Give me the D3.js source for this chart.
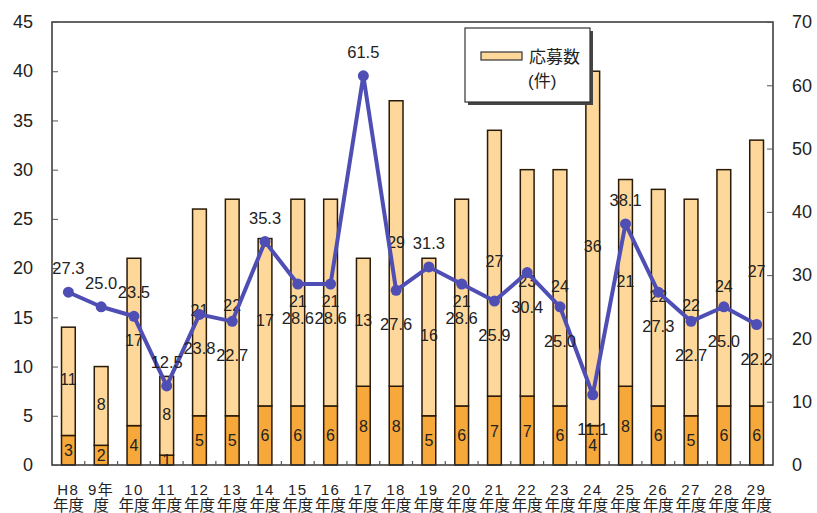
<!DOCTYPE html>
<html>
<head>
<meta charset="utf-8">
<script src="https://cdn.jsdelivr.net/npm/d3@7"></script>
<style>
  html, body { margin: 0; padding: 0; background: #fff; }
  svg { display: block; }
  text { font-family: "Liberation Sans", Arial, "Noto Sans CJK JP", sans-serif; fill: #222; }
</style>
</head>
<body>
<svg id="chart" width="817" height="513"></svg>
<script>
// Fiscal years (two-line labels)
const yearsTop    = ["H8", "9年", "10", "11", "12", "13", "14", "15", "16", "17", "18", "19", "20", "21", "22", "23", "24", "25", "26", "27", "28", "29"];
const yearsBottom = ["年度", "度", "年度", "年度", "年度", "年度", "年度", "年度", "年度", "年度", "年度", "年度", "年度", "年度", "年度", "年度", "年度", "年度", "年度", "年度", "年度", "年度"];

// Lower segment (count) and upper segment (応募数, applications)
const lowerCounts  = [3, 2, 4, 1, 5, 5, 6, 6, 6, 8, 8, 5, 6, 7, 7, 6, 4, 8, 6, 5, 6, 6];
const applications = [11, 8, 17, 8, 21, 22, 17, 21, 21, 13, 29, 16, 21, 27, 23, 24, 36, 21, 22, 22, 24, 27];

// Ratio line (%), right axis
const ratios = [27.3, 25.0, 23.5, 12.5, 23.8, 22.7, 35.3, 28.6, 28.6, 61.5, 27.6, 31.3, 28.6, 25.9, 30.4, 25.0, 11.1, 38.1, 27.3, 22.7, 25.0, 22.2];
const ratioLabelSide = ["a", "a", "a", "a", "b", "b", "a", "b", "b", "a", "b", "a", "b", "b", "b", "b", "b", "a", "b", "b", "b", "b"];

const leftTicks  = [0, 5, 10, 15, 20, 25, 30, 35, 40, 45];
const rightTicks = [0, 10, 20, 30, 40, 50, 60, 70];

const legendLines = ["応募数", "(件)"];

const svg = d3.select("#chart");
const plot = { left: 52, right: 773, top: 22, bottom: 465 };

const x = d3.scaleBand().domain(d3.range(yearsTop.length)).range([plot.left, plot.right]).padding(0);
const yL = d3.scaleLinear().domain([0, 45]).range([plot.bottom, plot.top]);
const yR = d3.scaleLinear().domain([0, 70]).range([plot.bottom, plot.top]);
const barW = x.bandwidth() * 0.42;
const cx = i => x(i) + x.bandwidth() / 2;

const colLight = "#fdd89a";
const colDark = "#f6a83a";
const colLine = "#4e4eb4";

// Stacked bars
const stacks = lowerCounts.map((v, i) => ({ i, lo: v, hi: applications[i] }));
const g = svg.append("g");
g.selectAll("rect.lo").data(stacks).join("rect")
  .attr("x", d => cx(d.i) - barW / 2)
  .attr("y", d => yL(d.lo))
  .attr("width", barW)
  .attr("height", d => yL(0) - yL(d.lo))
  .attr("fill", colDark).attr("stroke", "#2a1a08").attr("stroke-width", 1.5);
g.selectAll("rect.hi").data(stacks).join("rect")
  .attr("x", d => cx(d.i) - barW / 2)
  .attr("y", d => yL(d.lo + d.hi))
  .attr("width", barW)
  .attr("height", d => yL(d.lo) - yL(d.lo + d.hi))
  .attr("fill", colLight).attr("stroke", "#2a1a08").attr("stroke-width", 1.5);

// Segment value labels
g.selectAll("text.lo").data(stacks).join("text")
  .attr("x", d => cx(d.i))
  .attr("y", d => yL(d.lo / 2) + 6)
  .attr("text-anchor", "middle").attr("font-size", 16)
  .attr("fill", "#4a3010")
  .text(d => d.lo);
g.selectAll("text.hi").data(stacks).join("text")
  .attr("x", d => cx(d.i))
  .attr("y", d => yL(d.lo + d.hi / 2) + 4)
  .attr("text-anchor", "middle").attr("font-size", 16)
  .text(d => d.hi);

// Frame
svg.append("rect")
  .attr("x", plot.left).attr("y", plot.top)
  .attr("width", plot.right - plot.left).attr("height", plot.bottom - plot.top)
  .attr("fill", "none").attr("stroke", "#333").attr("stroke-width", 1.5);

// Left axis
const axL = d3.axisLeft(yL).tickValues(leftTicks).tickSizeInner(-6).tickSizeOuter(0).tickPadding(19);
const gL = svg.append("g").attr("transform", `translate(${plot.left},0)`).call(axL);
gL.select(".domain").remove();
gL.selectAll("line").attr("stroke", "#555");
gL.selectAll("text").attr("font-size", 18).attr("fill", "#222");

// Right axis
const axR = d3.axisRight(yR).tickValues(rightTicks).tickSizeInner(-6).tickSizeOuter(0).tickPadding(19);
const gR = svg.append("g").attr("transform", `translate(${plot.right},0)`).call(axR);
gR.select(".domain").remove();
gR.selectAll("line").attr("stroke", "#555");
gR.selectAll("text").attr("font-size", 18).attr("fill", "#222");

// Category boundary ticks along the bottom
svg.append("g").selectAll("line").data(d3.range(1, yearsTop.length)).join("line")
  .attr("x1", i => x(i)).attr("x2", i => x(i))
  .attr("y1", plot.bottom).attr("y2", plot.bottom - 4)
  .attr("stroke", "#555").attr("stroke-width", 1.2);

// Category labels (two lines)
const xl = svg.append("g");
xl.selectAll("text.t").data(yearsTop).join("text")
  .attr("x", (d, i) => cx(i)).attr("y", 495)
  .attr("text-anchor", "middle").attr("font-size", 15)
  .attr("letter-spacing", 1.5)
  .text(d => d);
xl.selectAll("text.b").data(yearsBottom).join("text")
  .attr("x", (d, i) => cx(i)).attr("y", 511)
  .attr("text-anchor", "middle").attr("font-size", 15.5)
  .attr("font-family", "'Noto Sans CJK JP', sans-serif")
  .text(d => d);

// Ratio line
const line = d3.line().x((d, i) => cx(i)).y(d => yR(d));
svg.append("path").datum(ratios)
  .attr("d", line)
  .attr("fill", "none").attr("stroke", colLine)
  .attr("stroke-width", 4).attr("stroke-linejoin", "round");
svg.append("g").selectAll("circle").data(ratios).join("circle")
  .attr("cx", (d, i) => cx(i)).attr("cy", d => yR(d))
  .attr("r", 5.5).attr("fill", colLine);

svg.append("g").selectAll("text").data(ratios).join("text")
  .attr("x", (d, i) => cx(i))
  .attr("y", (d, i) => ratioLabelSide[i] === "a" ? yR(d) - 18 : yR(d) + 40)
  .attr("text-anchor", "middle").attr("font-size", 16.5)
  .text(d => d.toFixed(1));

// Legend
const lg = svg.append("g");
lg.append("rect").attr("x", 468).attr("y", 31).attr("width", 125).attr("height", 74).attr("fill", "#444");
lg.append("rect").attr("x", 465).attr("y", 28).attr("width", 125).attr("height", 74)
  .attr("fill", "#fff").attr("stroke", "#333").attr("stroke-width", 1.2);
lg.append("rect").attr("x", 481).attr("y", 52).attr("width", 41).attr("height", 8)
  .attr("fill", colLight).attr("stroke", "#333").attr("stroke-width", 1.2);
lg.selectAll("text").data(legendLines).join("text")
  .attr("x", (d, i) => i === 0 ? 529 : 528)
  .attr("y", (d, i) => 63 + i * 24)
  .attr("font-size", 17)
  .attr("font-family", "'Noto Sans CJK JP', sans-serif")
  .text(d => d);
</script>
</body>
</html>
